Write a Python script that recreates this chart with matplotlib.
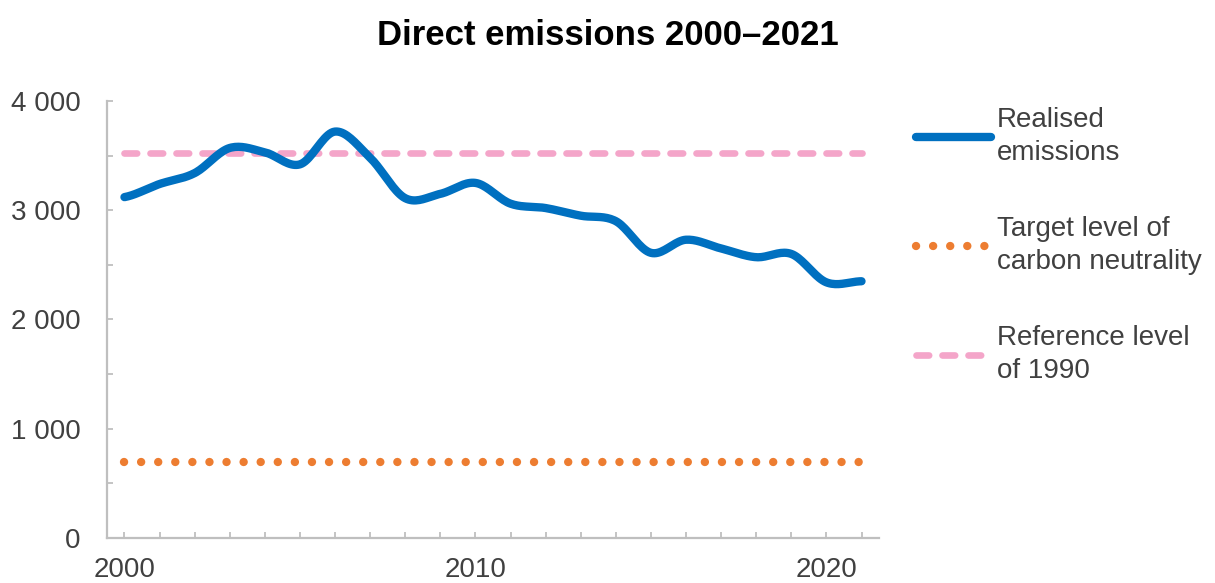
import numpy as np
import matplotlib
matplotlib.use("Agg")
import matplotlib.pyplot as plt
from matplotlib.ticker import FixedLocator, FuncFormatter

plt.rcParams["font.family"] = ["Liberation Sans", "DejaVu Sans"]

years = list(range(2000, 2022))
emissions = [3120, 3240, 3340, 3570, 3530, 3420, 3720, 3480, 3110, 3150, 3250,
             3060, 3020, 2950, 2900, 2610, 2730, 2650, 2570, 2600, 2340, 2350]
target_level = 700
reference_1990 = 3520

BLUE = "#0070C0"
ORANGE = "#ED7D31"
PINK = "#F4A5C9"
GREY_TEXT = "#404040"
GREY_AXIS = "#BFBFBF"


def smooth(x, y, steps=20):
    # Catmull-Rom spline through the yearly points (same look as a smoothed line chart)
    x = np.asarray(x, float)
    y = np.asarray(y, float)
    px = np.concatenate([[2 * x[0] - x[1]], x, [2 * x[-1] - x[-2]]])
    py = np.concatenate([[y[0]], y, [y[-1]]])
    xs, ys = [], []
    t = np.linspace(0, 1, steps, endpoint=False)
    for i in range(1, len(px) - 2):
        for arr, out in ((px, xs), (py, ys)):
            p0, p1, p2, p3 = arr[i - 1], arr[i], arr[i + 1], arr[i + 2]
            out.extend(0.5 * (2 * p1 + (-p0 + p2) * t
                              + (2 * p0 - 5 * p1 + 4 * p2 - p3) * t ** 2
                              + (-p0 + 3 * p1 - 3 * p2 + p3) * t ** 3))
    xs.append(x[-1])
    ys.append(y[-1])
    return np.array(xs), np.array(ys)


fig = plt.figure(figsize=(12.15, 5.83), dpi=100)
ax = fig.add_axes([0.088, 0.0772, 0.6355, 0.7496])

sx, sy = smooth(years, emissions)
ax.plot(sx, sy, color=BLUE, lw=6.0, solid_capstyle="round",
        solid_joinstyle="round", label="Realised\nemissions", zorder=3)
ax.plot([years[0], years[-1]], [target_level] * 2, color=ORANGE, lw=6.0,
        linestyle=(0, (0.01, 2.04)), dash_capstyle="round",
        label="Target level of\ncarbon neutrality", zorder=2)
ax.plot([years[0], years[-1]], [reference_1990] * 2, color=PINK, lw=4.8,
        linestyle=(0, (1.9, 2.0)), dash_capstyle="round",
        label="Reference level\nof 1990", zorder=2)

ax.set_xlim(1999.5, 2021.5)
ax.set_ylim(0, 4000)

ax.xaxis.set_major_locator(FixedLocator(years))
ax.xaxis.set_major_formatter(FuncFormatter(lambda v, p: f"{int(v)}" if int(v) % 10 == 0 else ""))
ax.yaxis.set_major_locator(FixedLocator(np.arange(0, 4001, 500)))
ax.yaxis.set_major_formatter(FuncFormatter(
    lambda v, p: (f"{int(v):,}".replace(",", " ") if v % 1000 == 0 else "")))

for side in ("top", "right"):
    ax.spines[side].set_visible(False)
for side in ("left", "bottom"):
    ax.spines[side].set_color(GREY_AXIS)
    ax.spines[side].set_linewidth(1.6)

ax.tick_params(axis="both", direction="in", length=4.5, width=1.3,
               color=GREY_AXIS, labelsize=20, labelcolor=GREY_TEXT)
ax.tick_params(axis="y", pad=19)
ax.tick_params(axis="x", pad=14)

fig.suptitle("Direct emissions 2000–2021", x=0.5, y=0.968, fontsize=25,
             fontweight="bold", color="black")

leg = ax.legend(loc="upper left", bbox_to_anchor=(1.033, 1.012), frameon=False,
                fontsize=20, handlelength=2.7, handletextpad=0.22,
                labelspacing=1.8, borderaxespad=0)
for t in leg.get_texts():
    t.set_color(GREY_TEXT)
    t.set_linespacing(1.35)

fig.savefig("out.png", dpi=100)
